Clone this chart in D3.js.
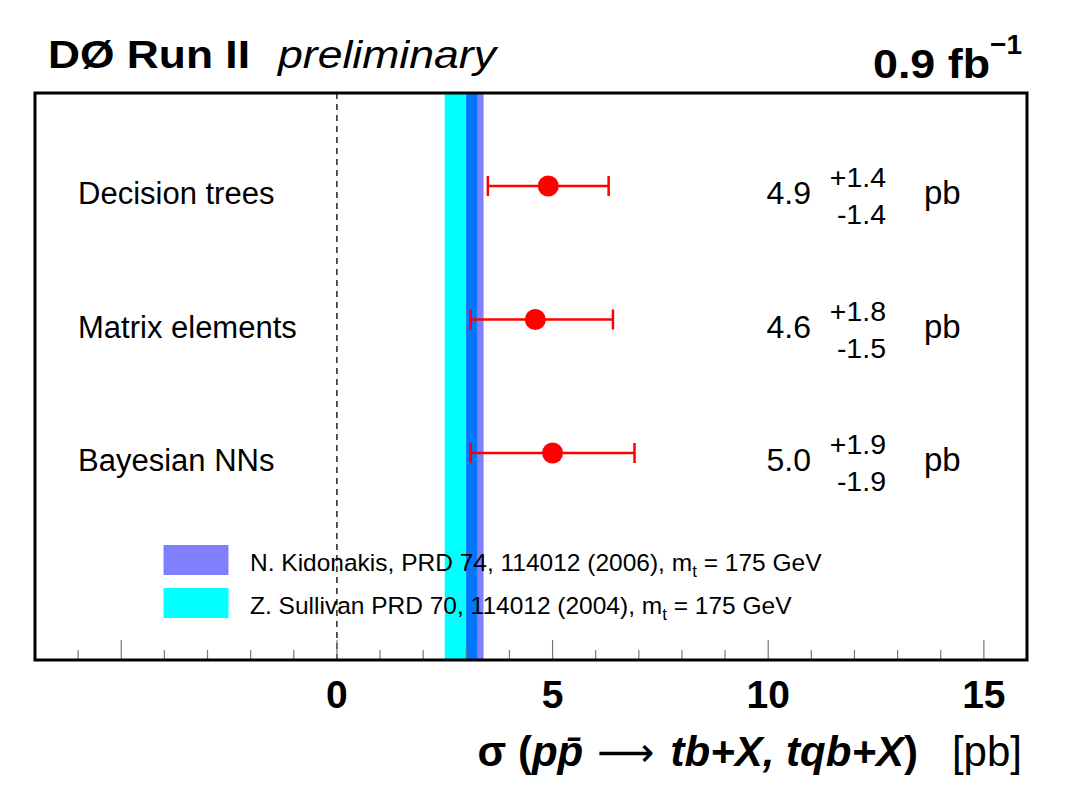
<!DOCTYPE html>
<html><head><meta charset="utf-8">
<script src="https://cdn.jsdelivr.net/npm/d3@7"></script>
<style>body{margin:0;background:#fff}svg{display:block}text{font-family:"Liberation Sans",Arial,sans-serif}</style>
</head><body>
<script>
const methods = ["Decision trees", "Matrix elements", "Bayesian NNs"];
const central = [4.9, 4.6, 5.0];
const errPlus = [1.4, 1.8, 1.9];
const errMinus = [1.4, 1.5, 1.9];
const centralLabels = ["4.9", "4.6", "5.0"];
const plusLabels = ["+1.4", "+1.8", "+1.9"];
const minusLabels = ["-1.4", "-1.5", "-1.9"];
const sullivanBand = [2.5, 3.25];
const kidonakisBand = [3.0, 3.4];
const majorTicks = [0, 5, 10, 15];
const minorTicks = d3.range(-6, 17, 1);

(function () {
const W = 1065, H = 795;
const svg = d3.select("body").append("svg").attr("width", W).attr("height", H);
const pLeft = 35, pRight = 1027, pTop = 93, pBottom = 660;
const x = d3.scaleLinear().domain([-7, 16]).range([pLeft, pRight]);
const y = d3.scaleLinear().domain([0, 2]).range([186, 453]);

// bands
svg.append("rect").attr("x", x(sullivanBand[0])).attr("y", pTop).attr("width", x(sullivanBand[1]) - x(sullivanBand[0])).attr("height", pBottom - pTop).attr("fill", "#00ffff");
svg.append("rect").attr("x", x(kidonakisBand[0])).attr("y", pTop).attr("width", x(kidonakisBand[1]) - x(kidonakisBand[0])).attr("height", pBottom - pTop).attr("fill", "#8080ff");
const ov0 = Math.max(sullivanBand[0], kidonakisBand[0]), ov1 = Math.min(sullivanBand[1], kidonakisBand[1]);
svg.append("rect").attr("x", x(ov0)).attr("y", pTop).attr("width", x(ov1) - x(ov0)).attr("height", pBottom - pTop).attr("fill", "#0077ff");

// dashed zero line
svg.append("line").attr("x1", x(0)).attr("x2", x(0)).attr("y1", pTop).attr("y2", pBottom).attr("stroke", "#000").attr("stroke-width", 1.3).attr("stroke-dasharray", "6,5");

// ticks
svg.selectAll("line.minor").data(minorTicks).enter().append("line")
  .attr("x1", d => x(d)).attr("x2", d => x(d))
  .attr("y1", d => pBottom - (d % 5 === 0 ? 20 : 10)).attr("y2", pBottom)
  .attr("stroke", "#777").attr("stroke-width", 1.2);

// frame
svg.append("rect").attr("x", pLeft).attr("y", pTop).attr("width", pRight - pLeft).attr("height", pBottom - pTop).attr("fill", "none").attr("stroke", "#000").attr("stroke-width", 3);

// tick labels
svg.selectAll("text.tl").data(majorTicks).enter().append("text")
  .attr("x", d => x(d)).attr("y", 708).attr("text-anchor", "middle")
  .attr("font-size", 39).attr("font-weight", "bold").text(d => d);

// error bars and points
const g = svg.selectAll("g.pt").data(methods).enter().append("g");
g.append("line").attr("x1", (d, i) => x(central[i] - errMinus[i])).attr("x2", (d, i) => x(central[i] + errPlus[i]))
  .attr("y1", (d, i) => y(i)).attr("y2", (d, i) => y(i)).attr("stroke", "#ff0000").attr("stroke-width", 2.5);
[ (i) => central[i] - errMinus[i], (i) => central[i] + errPlus[i] ].forEach(f => {
  g.append("line").attr("x1", (d, i) => x(f(i))).attr("x2", (d, i) => x(f(i)))
    .attr("y1", (d, i) => y(i) - 10).attr("y2", (d, i) => y(i) + 10).attr("stroke", "#ff0000").attr("stroke-width", 2.5);
});
g.append("circle").attr("cx", (d, i) => x(central[i])).attr("cy", (d, i) => y(i)).attr("r", 10.5).attr("fill", "#ff0000");

// labels
g.append("text").attr("x", 78).attr("y", (d, i) => y(i) + 18).attr("font-size", 31).text(d => d);
g.append("text").attr("x", 811).attr("y", (d, i) => y(i) + 18).attr("text-anchor", "end").attr("font-size", 32).text((d, i) => centralLabels[i]);
g.append("text").attr("x", 886).attr("y", (d, i) => y(i) + 1).attr("text-anchor", "end").attr("font-size", 28.5).text((d, i) => plusLabels[i]);
g.append("text").attr("x", 886).attr("y", (d, i) => y(i) + 38).attr("text-anchor", "end").attr("font-size", 28.5).text((d, i) => minusLabels[i]);
g.append("text").attr("x", 924).attr("y", (d, i) => y(i) + 18).attr("font-size", 33).text("pb");

// legend
const legend = [
  {color: "#8080ff", y: 545, text: "N. Kidonakis, PRD 74, 114012 (2006), m", sub: "t", tail: " = 175 GeV"},
  {color: "#00ffff", y: 588, text: "Z. Sullivan PRD 70, 114012 (2004), m", sub: "t", tail: " = 175 GeV"}
];
legend.forEach(l => {
  svg.append("rect").attr("x", 163.5).attr("y", l.y).attr("width", 65).attr("height", 30).attr("fill", l.color);
  const t = svg.append("text").attr("x", 250).attr("y", l.y + 26).attr("font-size", 24.5);
  t.append("tspan").text(l.text);
  t.append("tspan").attr("font-size", 17).attr("dy", 6).text(l.sub);
  t.append("tspan").attr("dy", -6).text(l.tail);
});

// title
svg.append("text").attr("x", 48).attr("y", 68).attr("font-size", 39).attr("font-weight", "bold")
  .attr("textLength", 202).attr("lengthAdjust", "spacingAndGlyphs").text("DØ Run II");
svg.append("text").attr("x", 278).attr("y", 68).attr("font-size", 39).attr("font-style", "italic")
  .attr("textLength", 218).attr("lengthAdjust", "spacingAndGlyphs").text("preliminary");

svg.append("text").attr("x", 873).attr("y", 78).attr("font-size", 40).attr("font-weight", "bold")
  .attr("textLength", 117).attr("lengthAdjust", "spacingAndGlyphs").text("0.9 fb");
svg.append("text").attr("x", 1022).attr("y", 54).attr("text-anchor", "end").attr("font-size", 28).attr("font-weight", "bold").text("−1");

// x-axis title
const xt = svg.append("text").attr("x", 1022).attr("y", 766).attr("text-anchor", "end").attr("font-size", 42);
xt.append("tspan").attr("font-weight", "bold").text("σ (");
xt.append("tspan").attr("font-weight", "bold").attr("font-style", "italic").text("pp̄");
xt.append("tspan").attr("font-family", "DejaVu Sans").attr("font-size", 40).attr("dx", 14).text("⟶");
xt.append("tspan").attr("font-weight", "bold").attr("font-style", "italic").attr("dx", 16).text("tb+X, tqb+X");
xt.append("tspan").attr("font-weight", "bold").text(")");
xt.append("tspan").attr("dx", 34).text("[pb]");
})();
</script>
</body></html>
